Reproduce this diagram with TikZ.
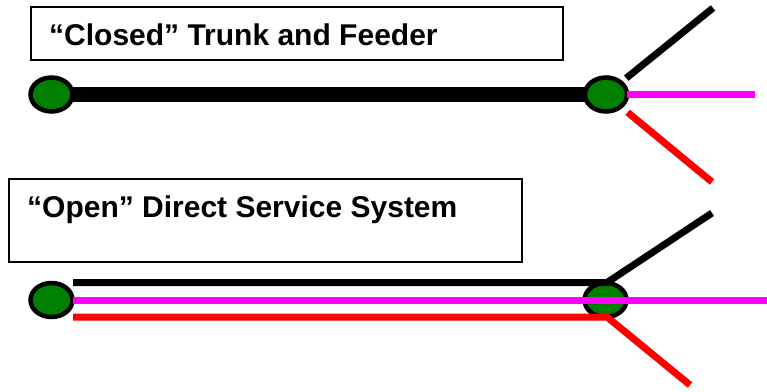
\documentclass[tikz,border=0pt]{standalone}
\usepackage{fontspec}
\setmainfont{Liberation Sans}
\usetikzlibrary{shapes.geometric}
\definecolor{nodegreen}{RGB}{0,128,0}
\definecolor{feedmagenta}{RGB}{255,0,255}
\definecolor{feedred}{RGB}{255,0,0}
\begin{document}
\begin{tikzpicture}[x=1pt,y=-1pt,
  titlebox/.style={draw=black,line width=1.5pt,fill=white},
  titletext/.style={font=\fontsize{30}{35}\selectfont\bfseries,anchor=base west,inner sep=0pt},
  stop/.style={ellipse,draw=black,line width=4.5pt,fill=nodegreen,
    minimum width=42pt,minimum height=34pt,inner sep=0pt},
  route/.style={line width=7pt},
  trunk/.style={line width=15pt}]
\useasboundingbox (0,0) rectangle (767,391);

% ---- closed trunk and feeder ----
\draw[titlebox] (31,7) rectangle (563,60);
\node[titletext] (t1) at (49,45) {“Closed” Trunk and Feeder};

\coordinate (a1) at (51.5,94.5);
\coordinate (b1) at (606,94.5);
\draw[trunk,black] (a1) -- (b1);
\node[stop] (s1) at (a1) {};
\node[stop] (s2) at (b1) {};

\coordinate (f1) at (713,8);
\coordinate (f2) at (755,94.5);
\coordinate (f3) at (712,182);
\draw[route,black,shorten <=26pt] (s2.center) -- (f1);
\draw[route,feedmagenta,shorten <=21pt] (s2.center) -- (f2);
\draw[route,feedred,shorten <=28pt] (s2.center) -- (f3);

% ---- open direct service ----
\draw[titlebox] (9,179) rectangle (522,262);
\node[titletext] (t2) at (27,217) {“Open” Direct Service System};

\node[stop] (s3) at (51.5,300) {};
\node[stop] (s4) at (605.5,300) {};

\coordinate (k0) at (73,282.5);
\coordinate (k1) at (607,282.5);
\coordinate (k2) at (712,213);
\coordinate (m0) at (73,300);
\coordinate (m1) at (767,300);
\coordinate (r0) at (73,317);
\coordinate (r1) at (607,317);
\coordinate (r2) at (690,385);
\draw[route,black] (k0) -- (k1) -- (k2);
\draw[route,feedmagenta] (m0) -- (m1);
\draw[route,feedred] (r0) -- (r1) -- (r2);
\end{tikzpicture}
\end{document}
